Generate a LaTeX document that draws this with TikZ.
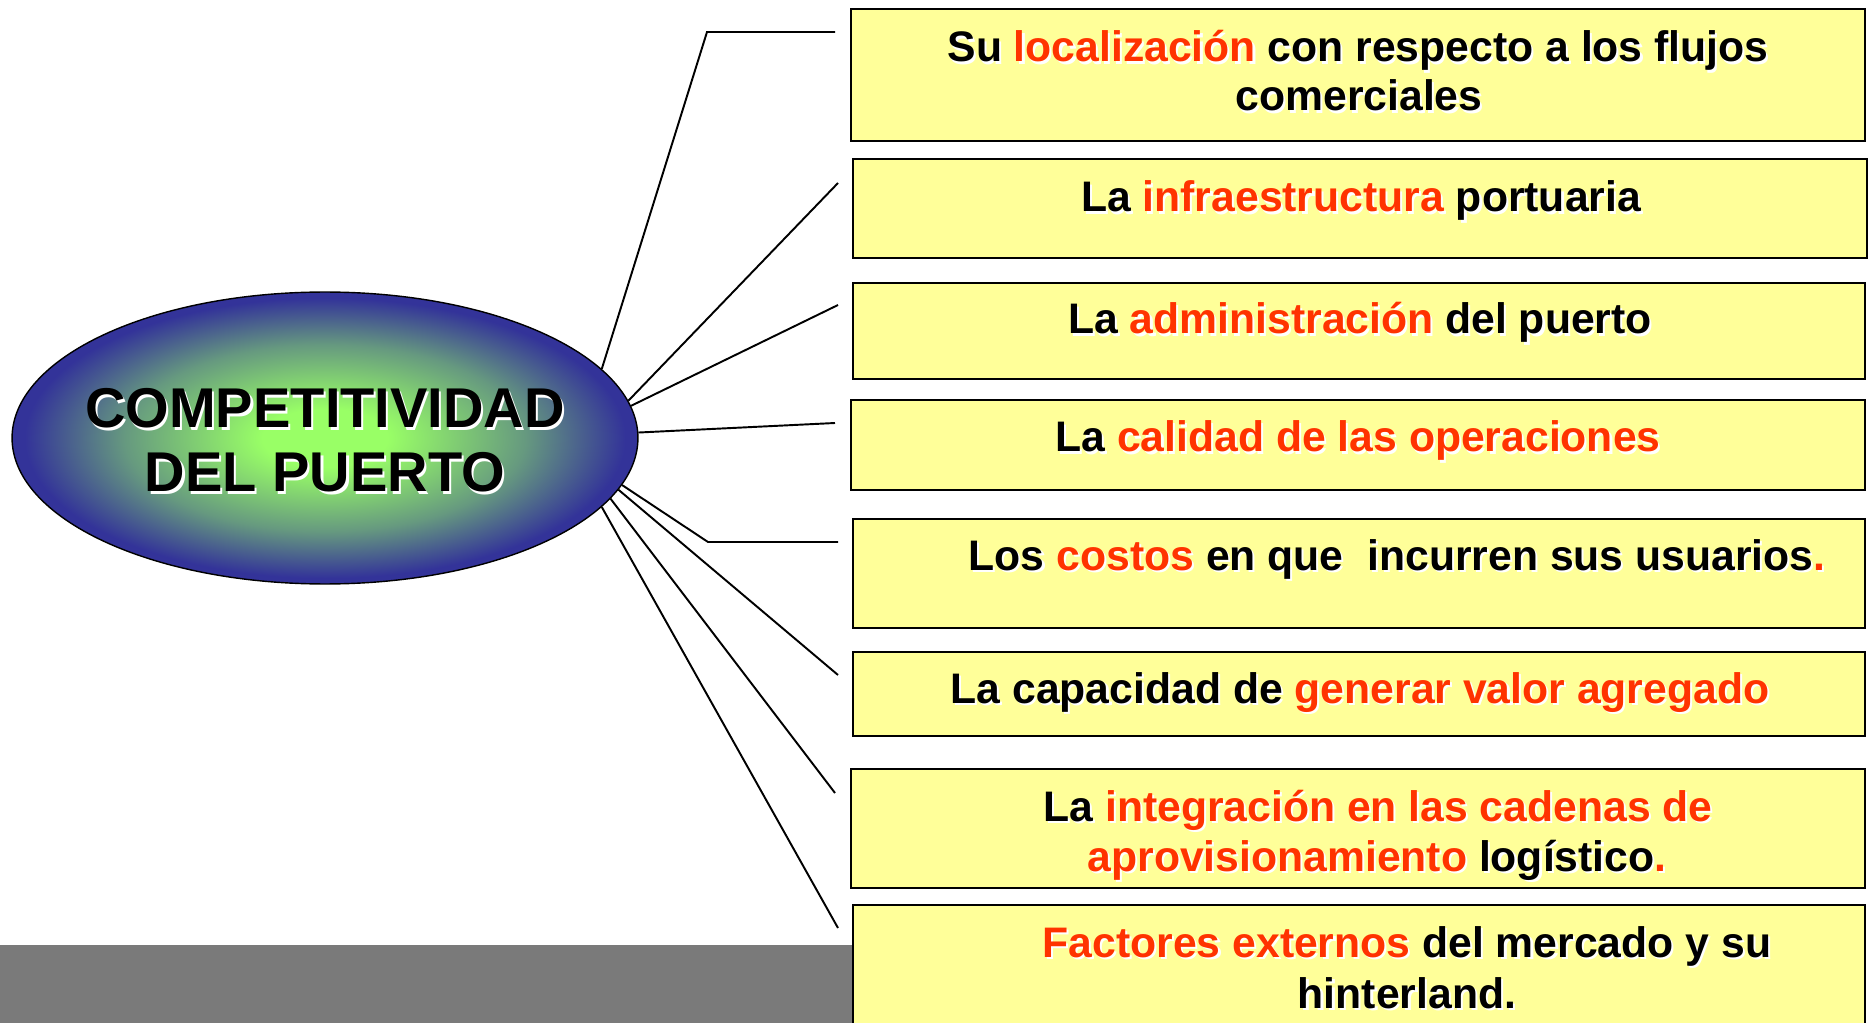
\documentclass[tikz,border=0pt]{standalone}
\usepackage{fontspec}
\setmainfont{Liberation Sans}
\usetikzlibrary{shapes.geometric}

\definecolor{amarillo}{HTML}{FFFF99}
\definecolor{naranja}{HTML}{FF3300}
\definecolor{verdeC}{HTML}{99FF66}
\definecolor{azulO}{HTML}{333399}
\definecolor{barra}{HTML}{7A7A7A}

\pgfdeclareradialshading{brillo}{\pgfpointorigin}{color(0bp)=(verdeC); color(5bp)=(verdeC); color(16bp)=(verdeC!50!azulO); color(24bp)=(azulO); color(25bp)=(azulO); color(50bp)=(azulO)}

% texto con sombra blanca
\newcommand{\sh}[2][black]{\makebox[0pt][l]{\kern1.2pt\raisebox{-1.2pt}{\color{white}#2}}\textcolor{#1}{#2}}

\tikzset{
  caja/.style={draw, line width=1.2pt, fill=amarillo, inner sep=0pt, outer sep=0pt},
  txt/.style={anchor=base, inner sep=0pt, font=\bfseries\fontsize{24.3}{29}\selectfont},
  tit/.style={anchor=base, inner sep=0pt, font=\bfseries\fontsize{31.9}{38}\selectfont},
  elipse/.style={ellipse, draw, line width=0.8pt, shading=brillo, inner sep=0pt,
    minimum width=12.52cm, minimum height=5.84cm},
  rama/.style={line width=1.1pt}
}

\begin{document}
\begin{tikzpicture}[x=0.02cm, y=-0.02cm]
\clip (0,0) rectangle (1869,1023);
\fill[white] (0,0) rectangle (1869,1023);
\fill[barra] (0,945) rectangle (853,1023);

% cajas
\node[caja, minimum width=20.28cm, minimum height=2.64cm] (b1) at (1358,75) {};
\node[caja, minimum width=20.28cm, minimum height=1.98cm] (b2) at (1360,208.5) {};
\node[caja, minimum width=20.24cm, minimum height=1.92cm] (b3) at (1359,331) {};
\node[caja, minimum width=20.28cm, minimum height=1.80cm] (b4) at (1358,445) {};
\node[caja, minimum width=20.24cm, minimum height=2.18cm] (b5) at (1359,573.5) {};
\node[caja, minimum width=20.24cm, minimum height=1.68cm] (b6) at (1359,694) {};
\node[caja, minimum width=20.28cm, minimum height=2.38cm] (b7) at (1358,828.5) {};
\node[caja, minimum width=20.24cm, minimum height=2.60cm] (b8) at (1359,970) {};

\node[txt] (t1a) at (1358,62) {\sh{Su} \sh[naranja]{localización} \sh{con respecto a los flujos}};
\node[txt] (t1b) at (1359,111) {\sh{comerciales}};
\node[txt] (t2) at (1361,212) {\sh{La} \sh[naranja]{infraestructura} \sh{portuaria}};
\node[txt] (t3) at (1360,334) {\sh{La} \sh[naranja]{administración} \sh{del puerto}};
\node[txt] (t4) at (1358,452) {\sh{La} \sh[naranja]{calidad de las operaciones}};
\node[txt] (t5) at (1397,570) {\sh{Los} \sh[naranja]{costos} \sh{en que\ \ incurren sus usuarios}\sh[naranja]{.}};
\node[txt] (t6) at (1360,703) {\sh{La capacidad de} \sh[naranja]{generar valor agregado}};
\node[txt] (t7a) at (1378,821) {\sh{La} \sh[naranja]{integración en las cadenas de}};
\node[txt] (t7b) at (1377,871) {\sh[naranja]{aprovisionamiento} \sh{logístico}\sh[naranja]{.}};
\node[txt] (t8a) at (1407,957) {\sh[naranja]{Factores externos} \sh{del mercado y su}};
\node[txt] (t8b) at (1407,1008) {\sh{hinterland.}};

% elipse central
\node[elipse] (ell) at (325,438) {};
\node[tit] (c1) at (325,428) {\sh{COMPETITIVIDAD}};
\node[tit] (c2) at (325,492) {\sh{DEL PUERTO}};

% ramas
\coordinate (k1) at (707,32);
\coordinate (k5) at (708,542);
\coordinate (e1) at (835,32);
\coordinate (e2) at (838,183);
\coordinate (e3) at (838,305);
\coordinate (e4) at (835,423);
\coordinate (e5) at (838,542);
\coordinate (e6) at (838,675);
\coordinate (e7) at (835,793);
\coordinate (e8) at (838,928);

\path[draw,rama] (ell.14.5) -- (k1) -- (e1);
\path[draw,rama] (ell.7.6) -- (e2);
\path[draw,rama] (ell.6.2) -- (e3);
\path[draw,rama] (ell.1.4) -- (e4);
\path[draw,rama] (ell.-9) -- (k5) -- (e5);
\path[draw,rama] (ell.-10.1) -- (e6);
\path[draw,rama] (ell.-12.3) -- (e7);
\path[draw,rama] (ell.-14.8) -- (e8);
\end{tikzpicture}
\end{document}
